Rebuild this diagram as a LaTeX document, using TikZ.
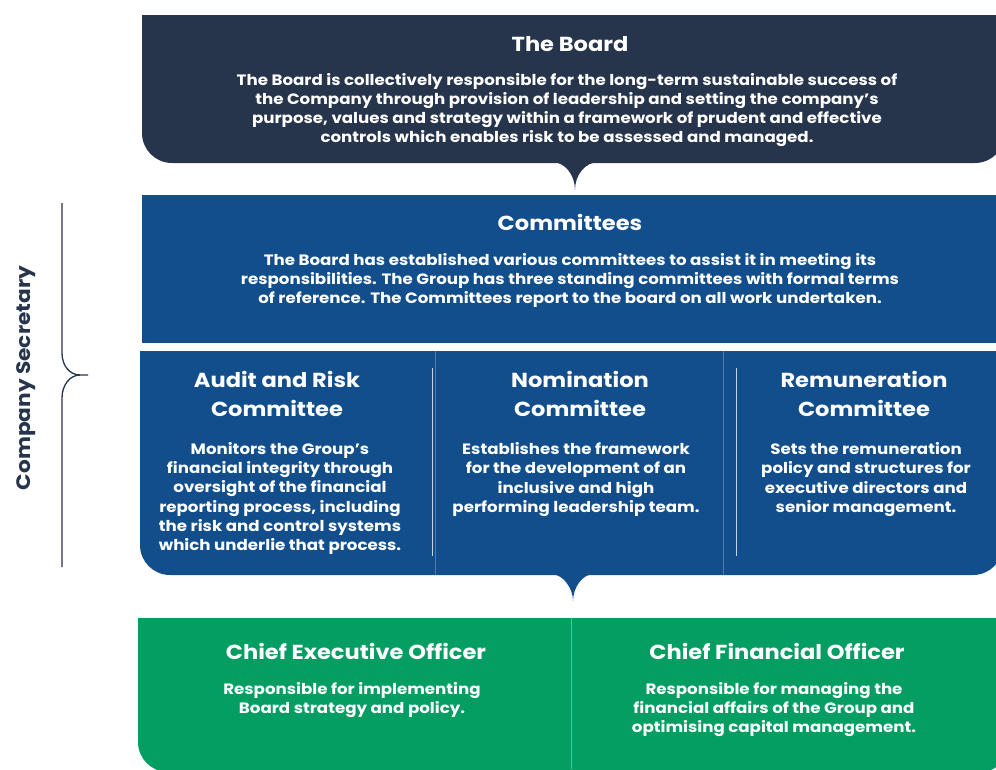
\documentclass[tikz,border=0pt]{standalone}
\usepackage{fontspec}
\setmainfont{Poppins}
\newfontfamily\widefont[FakeStretch=1.11]{Poppins}
\definecolor{navy}{HTML}{26344C}
\definecolor{cblue}{HTML}{124E8C}
\definecolor{cgreen}{HTML}{049D62}
\tikzset{
  ttl/.style={text=white, font=\widefont\bfseries\fontsize{20.3}{29}\selectfont, align=center, inner sep=0pt},
  bdy/.style={text=white, font=\widefont\bfseries\fontsize{15}{19.2}\selectfont, align=center, inner sep=0pt},
  divline/.style={draw=white!75!cblue, line width=0.9pt},
  seam/.style={line width=1pt},
}
\begin{document}
\begin{tikzpicture}[x=1pt,y=-1pt]
\useasboundingbox (0,0) rectangle (996,769);
\clip (0,0) rectangle (996,769);
% Board
\fill[navy] (142,15) -- (1005,15) -- (1005,133) .. controls (1005,149.6) and (991.6,163) .. (975,163)
  -- (172,163) .. controls (155.4,163) and (142,149.6) .. (142,133) -- cycle;
\fill[navy] (552,162) .. controls (565,162) and (575,175) .. (575,190)
  .. controls (575,175) and (585,162) .. (599,162) -- cycle;
% Committees
\fill[cblue] (142,195) rectangle (1005,343);
% Committee row
\fill[cblue] (140,351) -- (1003,351) -- (1003,545) .. controls (1003,561.6) and (989.6,575) .. (973,575)
  -- (170,575) .. controls (153.4,575) and (140,561.6) .. (140,545) -- cycle;
\draw[seam, white!25!cblue] (435,351) -- (435,575);
\draw[seam, white!25!cblue] (723,351) -- (723,575);
\draw[divline] (432,368) -- (432,556);
\draw[divline] (736,368) -- (736,556);
\fill[cblue] (551,574) .. controls (563,574) and (573,588) .. (573,601)
  .. controls (573,588) and (582,574) .. (594,574) -- cycle;
% Green row
\fill[cgreen] (138,618) -- (1010,618) -- (1010,742) .. controls (1010,758.6) and (996.6,772) .. (980,772)
  -- (168,772) .. controls (151.4,772) and (138,758.6) .. (138,742) -- cycle;
\draw[seam, white!35!cgreen] (571,618) -- (571,769);
% Bracket
\draw[navy, line width=1.3pt] (62,203) -- (62,353) .. controls (62,366) and (70,375) .. (80,375) -- (88,375);
\draw[navy, line width=1.3pt] (62,567) -- (62,398) .. controls (62,385) and (70,375) .. (80,375);
\node[rotate=90, text=navy, font=\widefont\bfseries\fontsize{19.5}{24}\selectfont, inner sep=0pt] (sec) at (26,378) {Company Secretary};
% Texts
\node[ttl] (boardT) at (570,44) {The Board};
\node[bdy] (boardB) at (567,110) {The Board is collectively responsible for the long-term sustainable success of\\ the Company through provision of leadership and setting the company’s\\ purpose, values and strategy within a framework of prudent and effective\\ controls which enables risk to be assessed and managed.};
\node[ttl] (comT) at (570,222) {Committees};
\node[bdy] (comB) at (570,280.5) {The Board has established various committees to assist it in meeting its\\ responsibilities. The Group has three standing committees with formal terms\\ of reference. The Committees report to the board on all work undertaken.};
\node[ttl] (audT) at (277,394) {Audit and Risk\\ Committee};
\node[bdy] (audB) at (280,498.5) {Monitors the Group’s\\ financial integrity through\\ oversight of the financial\\ reporting process, including\\ the risk and control systems\\ which underlie that process.};
\node[ttl] (nomT) at (580,394) {Nomination\\ Committee};
\node[bdy] (nomB) at (576,479.5) {Establishes the framework\\ for the development of an\\ inclusive and high\\ performing leadership team.};
\node[ttl] (remT) at (864,394) {Remuneration\\ Committee};
\node[bdy] (remB) at (866,479.5) {Sets the remuneration\\ policy and structures for\\ executive directors and\\ senior management.};
\node[ttl] (ceoT) at (356,651) {Chief Executive Officer};
\node[bdy] (ceoB) at (352,700) {Responsible for implementing\\ Board strategy and policy.};
\node[ttl] (cfoT) at (777,651) {Chief Financial Officer};
\node[bdy] (cfoB) at (774,709.5) {Responsible for managing the\\ financial affairs of the Group and\\ optimising capital management.};
\end{tikzpicture}
\end{document}
